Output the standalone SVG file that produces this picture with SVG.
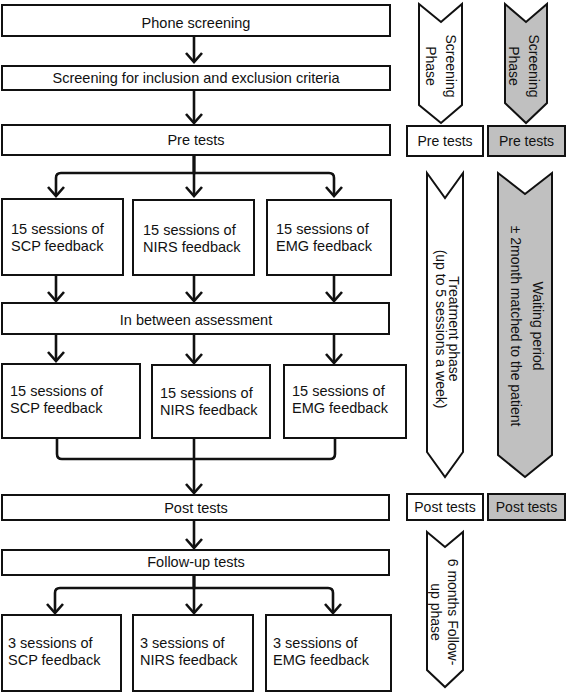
<svg xmlns="http://www.w3.org/2000/svg" width="567" height="694" viewBox="0 0 567 694">
<style>
  .box { fill: #fff; stroke: #111; stroke-width: 2; }
  .gbox { fill: #c0c0c0; stroke: #111; stroke-width: 2; }
  .t { font-family: "Liberation Sans", Arial, sans-serif; font-size: 14.5px; fill: #111; }
  .c { text-anchor: middle; }
  .r { font-family: "Liberation Sans", Arial, sans-serif; font-size: 14px; fill: #111; text-anchor: middle; }
  .ln { fill: none; stroke: #111; stroke-width: 2.6; }
</style>
<defs>
  <marker id="ah" markerUnits="userSpaceOnUse" markerWidth="20" markerHeight="20" refX="10" refY="10" orient="auto" viewBox="0 0 20 20" overflow="visible">
    <path d="M1,2 L10,10 L1,18" fill="none" stroke="#111" stroke-width="2.6"/>
  </marker>
</defs>
<rect width="567" height="694" fill="#fff"/>

<g id="connectors">
  <path class="ln" d="M194,36 V62" marker-end="url(#ah)"/>
  <path class="ln" d="M194,90 V123" marker-end="url(#ah)"/>
  <path class="ln" d="M194,155 V196" marker-end="url(#ah)"/>
  <path class="ln" d="M194,155 V173 H61 Q56,173 56,178 V196" marker-end="url(#ah)"/>
  <path class="ln" d="M194,155 V173 H329 Q334,173 334,178 V196" marker-end="url(#ah)"/>
  <path class="ln" d="M56,275 V301" marker-end="url(#ah)"/>
  <path class="ln" d="M194,275 V301" marker-end="url(#ah)"/>
  <path class="ln" d="M334,275 V301" marker-end="url(#ah)"/>
  <path class="ln" d="M56,334 V361" marker-end="url(#ah)"/>
  <path class="ln" d="M194,334 V363" marker-end="url(#ah)"/>
  <path class="ln" d="M334,334 V363" marker-end="url(#ah)"/>
  <path class="ln" d="M194,438 V493" marker-end="url(#ah)"/>
  <path class="ln" d="M57,438 V454 Q57,459 62,459 H194"/>
  <path class="ln" d="M335,438 V454 Q335,459 330,459 H194"/>
  <path class="ln" d="M194,520 V548" marker-end="url(#ah)"/>
  <path class="ln" d="M194,575 V613" marker-end="url(#ah)"/>
  <path class="ln" d="M194,575 V588 H60 Q55,588 55,593 V613" marker-end="url(#ah)"/>
  <path class="ln" d="M194,575 V588 H328 Q333,588 333,593 V613" marker-end="url(#ah)"/>
</g>

<g id="phone">
  <rect class="box" x="2" y="5" width="388" height="31"/>
  <text class="t c" x="196" y="28">Phone screening</text>
</g>
<g id="screening">
  <rect class="box" x="2" y="66" width="388" height="24"/>
  <text class="t c" x="196" y="83">Screening for inclusion and exclusion criteria</text>
</g>
<g id="pretests">
  <rect class="box" x="2" y="125" width="388" height="30"/>
  <text class="t c" x="196" y="145">Pre tests</text>
</g>

<g id="scp1">
  <rect class="box" x="2" y="199" width="121" height="76"/>
  <text class="t" x="11" y="234">15 sessions of</text>
  <text class="t" x="11" y="251">SCP feedback</text>
</g>
<g id="nirs1">
  <rect class="box" x="133" y="200" width="121" height="75"/>
  <text class="t" x="143" y="235">15 sessions of</text>
  <text class="t" x="143" y="252">NIRS feedback</text>
</g>
<g id="emg1">
  <rect class="box" x="267" y="200" width="124" height="75"/>
  <text class="t" x="276" y="234">15 sessions of</text>
  <text class="t" x="276" y="251">EMG feedback</text>
</g>

<g id="between">
  <rect class="box" x="2" y="303" width="387" height="31"/>
  <text class="t c" x="196" y="325">In between assessment</text>
</g>

<g id="scp2">
  <rect class="box" x="2" y="364" width="138" height="74"/>
  <text class="t" x="10" y="396">15 sessions of</text>
  <text class="t" x="10" y="413">SCP feedback</text>
</g>
<g id="nirs2">
  <rect class="box" x="152" y="365" width="118" height="73"/>
  <text class="t" x="160" y="398">15 sessions of</text>
  <text class="t" x="160" y="415">NIRS feedback</text>
</g>
<g id="emg2">
  <rect class="box" x="284" y="365" width="122" height="73"/>
  <text class="t" x="292" y="396">15 sessions of</text>
  <text class="t" x="292" y="413">EMG feedback</text>
</g>

<g id="posttests">
  <rect class="box" x="2" y="495" width="387" height="25"/>
  <text class="t c" x="196" y="513">Post tests</text>
</g>
<g id="followup">
  <rect class="box" x="2" y="550" width="387" height="25"/>
  <text class="t c" x="196" y="567">Follow-up tests</text>
</g>

<g id="scp3">
  <rect class="box" x="2" y="615" width="119" height="76"/>
  <text class="t" x="8" y="648">3 sessions of</text>
  <text class="t" x="8" y="665">SCP feedback</text>
</g>
<g id="nirs3">
  <rect class="box" x="133" y="615" width="120" height="76"/>
  <text class="t" x="140" y="648">3 sessions of</text>
  <text class="t" x="140" y="665">NIRS feedback</text>
</g>
<g id="emg3">
  <rect class="box" x="266" y="615" width="125" height="76"/>
  <text class="t" x="273" y="648">3 sessions of</text>
  <text class="t" x="273" y="665">EMG feedback</text>
</g>

<g id="screening-phase-w">
  <polygon class="box" points="419,4 441,22 462,4 462,105 441,123 419,105"/>
  <g transform="translate(445.5,66) rotate(90)">
    <text class="r" x="0" y="0">Screening</text>
    <text class="r" x="0" y="20">Phase</text>
  </g>
</g>
<g id="screening-phase-g">
  <polygon class="gbox" points="505,4 526,22 547,4 547,103 526,123 505,103"/>
  <g transform="translate(528.5,66) rotate(90)">
    <text class="r" x="0" y="0">Screening</text>
    <text class="r" x="0" y="20">Phase</text>
  </g>
</g>
<g id="pre-w">
  <rect class="box" x="407" y="126" width="76" height="30"/>
  <text class="r" x="445" y="146">Pre tests</text>
</g>
<g id="pre-g">
  <rect class="gbox" x="488" y="126" width="77" height="30"/>
  <text class="r" x="526.5" y="146">Pre tests</text>
</g>
<g id="treatment">
  <polygon class="box" points="427,173 445,198 463,173 463,452 445,477 427,452"/>
  <g transform="translate(448.5,329) rotate(90)">
    <text class="r" x="0" y="0">Treatment phase</text>
    <text class="r" x="0" y="13">(up to 5 sessions a week)</text>
  </g>
</g>
<g id="waiting">
  <polygon class="gbox" points="498,173 525,194 552,173 552,455 525,477 498,455"/>
  <g transform="translate(532.5,326) rotate(90)">
    <text class="r" x="0" y="0">Waiting period</text>
    <text class="r" x="0" y="22">± 2month matched to the patient</text>
  </g>
</g>
<g id="post-w">
  <rect class="box" x="407" y="494" width="76" height="26"/>
  <text class="r" x="445" y="512">Post tests</text>
</g>
<g id="post-g">
  <rect class="gbox" x="488" y="494" width="77" height="26"/>
  <text class="r" x="526.5" y="512">Post tests</text>
</g>
<g id="follow-phase">
  <polygon class="box" points="427,532 445,547 463,532 463,670 445,687 427,670"/>
  <g transform="translate(447.5,612) rotate(90)">
    <text class="r" x="0" y="0">6 months Follow-</text>
    <text class="r" x="0" y="17">up phase</text>
  </g>
</g>
</svg>
